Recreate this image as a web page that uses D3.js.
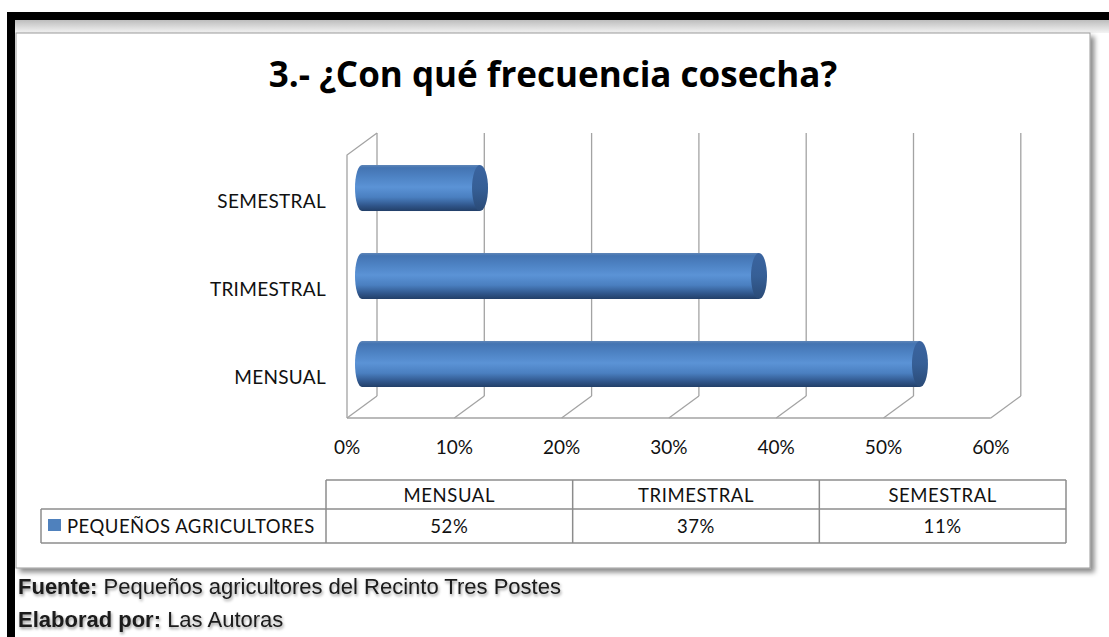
<!DOCTYPE html>
<html>
<head>
<meta charset="utf-8">
<script src="https://cdn.jsdelivr.net/npm/d3@7"></script>
<style>
  body { margin: 0; background: #fff; }
  svg { display: block; }
</style>
</head>
<body>
<div id="chart"></div>
<script>
// data
const categories = ["MENSUAL", "TRIMESTRAL", "SEMESTRAL"];
const values = [0.52, 0.37, 0.11];
const valueLabels = ["52%", "37%", "11%"];
const seriesName = "PEQUEÑOS AGRICULTORES";
const xTicks = [0, 0.1, 0.2, 0.3, 0.4, 0.5, 0.6];
const title = "3.- ¿Con qué frecuencia cosecha?";
const footer = [["Fuente:", " Pequeños agricultores del Recinto Tres Postes"],
                ["Elaborad por:", " Las Autoras"]];

const W = 1109, H = 637;
const svg = d3.select("#chart").append("svg")
  .attr("width", W).attr("height", H);

const defs = svg.append("defs");

// cylinder body gradient
const grad = defs.append("linearGradient")
  .attr("id", "cyl").attr("x1", 0).attr("y1", 0).attr("x2", 0).attr("y2", 1);
[[0, "#5f86b8"], [0.06, "#4474b2"], [0.25, "#4d82c3"], [0.48, "#5b93d6"],
 [0.7, "#4a7fc0"], [0.88, "#30568b"], [1, "#223f68"]]
  .forEach(([o, c]) => grad.append("stop").attr("offset", o).attr("stop-color", c));

const capGrad = defs.append("linearGradient")
  .attr("id", "cap").attr("x1", 0).attr("y1", 0).attr("x2", 0).attr("y2", 1);
[[0, "#3a64a0"], [0.5, "#365f96"], [1, "#2a4a76"]]
  .forEach(([o, c]) => capGrad.append("stop").attr("offset", o).attr("stop-color", c));

const band = defs.append("linearGradient")
  .attr("id", "band").attr("x1", 0).attr("y1", 0).attr("x2", 0).attr("y2", 1);
[[0, "#bdbdbd"], [1, "#f4f4f4"]]
  .forEach(([o, c]) => band.append("stop").attr("offset", o).attr("stop-color", c));

const shadow = defs.append("filter").attr("id", "shadow")
  .attr("x", "-5%").attr("y", "-5%").attr("width", "110%").attr("height", "110%");
shadow.append("feDropShadow").attr("dx", 4).attr("dy", 4)
  .attr("stdDeviation", 2.5).attr("flood-color", "#000").attr("flood-opacity", 0.45);

const txtShadow = defs.append("filter").attr("id", "tshadow")
  .attr("x", "-5%").attr("y", "-30%").attr("width", "110%").attr("height", "160%");
txtShadow.append("feDropShadow").attr("dx", 1).attr("dy", 2)
  .attr("stdDeviation", 1.6).attr("flood-color", "#000").attr("flood-opacity", 0.4);

// page frame
svg.append("rect").attr("x", 15).attr("y", 20).attr("width", W - 15).attr("height", 13)
  .attr("fill", "url(#band)");
svg.append("rect").attr("x", 7).attr("y", 12).attr("width", W - 7).attr("height", 8)
  .attr("fill", "#000");
svg.append("rect").attr("x", 7).attr("y", 12).attr("width", 8).attr("height", H - 12)
  .attr("fill", "#000");

// chart box
svg.append("rect").attr("x", 16).attr("y", 33).attr("width", 1074).attr("height", 535)
  .attr("fill", "#fff").attr("stroke", "#9a9a9a").attr("stroke-width", 1)
  .attr("filter", "url(#shadow)");

// title
svg.append("text").attr("x", 553).attr("y", 87)
  .attr("text-anchor", "middle")
  .style("font-family", "'Open Sans', Lato, sans-serif")
  .style("font-weight", "bold").style("font-size", "35px")
  .attr("fill", "#000").text(title);

// 3D plot geometry
const depthX = 15, depthY = 11;     // half depth offset
const midX0 = 362, floorMid = 407, topBack = 133;
const x = d3.scaleLinear().domain([0, 0.6]).range([midX0, midX0 + 643.8]);
const y = d3.scaleBand().domain(categories.slice().reverse())
  .range([165, 387]).paddingInner(0.477).paddingOuter(0);

const grid = svg.append("g")
  .attr("stroke", "#a3a3a3").attr("stroke-width", 1.3).attr("fill", "none");

// back wall verticals
grid.selectAll(".bv").data(xTicks).join("line")
  .attr("x1", d => x(d) + depthX).attr("x2", d => x(d) + depthX)
  .attr("y1", topBack).attr("y2", floorMid - depthY);
// floor diagonals
grid.selectAll(".fd").data(xTicks).join("line")
  .attr("x1", d => x(d) + depthX).attr("y1", floorMid - depthY)
  .attr("x2", d => x(d) - depthX).attr("y2", floorMid + depthY);
// floor front edge
grid.append("line")
  .attr("x1", x(0) - depthX).attr("x2", x(0.6) - depthX)
  .attr("y1", floorMid + depthY).attr("y2", floorMid + depthY);
// side wall
grid.append("path")
  .attr("d", `M${x(0) - depthX},${floorMid + depthY}V${topBack + 2 * depthY}L${x(0) + depthX},${topBack}`);

// bars as cylinders
const bars = svg.append("g").selectAll("g").data(categories).join("g");
const rxL = 7, rxR = 8;
bars.append("ellipse")
  .attr("cx", x(0)).attr("cy", d => y(d) + y.bandwidth() / 2)
  .attr("rx", rxL).attr("ry", y.bandwidth() / 2)
  .attr("fill", "url(#cyl)");
bars.append("rect")
  .attr("x", x(0)).attr("y", d => y(d))
  .attr("width", (d, i) => x(values[i]) - x(0))
  .attr("height", y.bandwidth())
  .attr("fill", "url(#cyl)");
bars.append("ellipse")
  .attr("cx", (d, i) => x(values[i])).attr("cy", d => y(d) + y.bandwidth() / 2)
  .attr("rx", rxR).attr("ry", y.bandwidth() / 2)
  .attr("fill", "url(#cap)");

const labelFont = "Lato, 'Open Sans', sans-serif";

// category labels
svg.append("g").selectAll("text").data(categories).join("text")
  .attr("x", 326).attr("y", d => y(d) + y.bandwidth() / 2 + 13)
  .attr("dy", "0.35em").attr("text-anchor", "end")
  .style("font-family", labelFont).style("font-size", "19px")
  .style("letter-spacing", "0.3px")
  .attr("fill", "#111").text(d => d);

// x tick labels
svg.append("g").selectAll("text").data(xTicks).join("text")
  .attr("x", d => x(d) - depthX).attr("y", 447)
  .attr("dy", "0.35em").attr("text-anchor", "middle")
  .style("font-family", labelFont).style("font-size", "19px")
  .attr("fill", "#111").text(d3.format(".0%"));

// data table
const col = d3.scaleBand().domain(categories).range([326, 1066]);
const rowTop = 480, rowMid = 509, rowBot = 543, legLeft = 41;
const tbl = svg.append("g");
const tLines = tbl.append("g").attr("stroke", "#8c8c8c").attr("stroke-width", 1.5);
tLines.append("line").attr("x1", col.range()[0]).attr("x2", col.range()[1]).attr("y1", rowTop).attr("y2", rowTop);
tLines.append("line").attr("x1", legLeft).attr("x2", col.range()[1]).attr("y1", rowMid).attr("y2", rowMid);
tLines.append("line").attr("x1", legLeft).attr("x2", col.range()[1]).attr("y1", rowBot).attr("y2", rowBot);
tLines.append("line").attr("x1", legLeft).attr("x2", legLeft).attr("y1", rowMid).attr("y2", rowBot);
tLines.selectAll(".cv").data(categories.concat(["end"])).join("line")
  .attr("x1", (d, i) => col.range()[0] + i * col.step())
  .attr("x2", (d, i) => col.range()[0] + i * col.step())
  .attr("y1", rowTop).attr("y2", rowBot);

tbl.selectAll(".hd").data(categories).join("text")
  .attr("x", d => col(d) + col.bandwidth() / 2).attr("y", (rowTop + rowMid) / 2 + 1)
  .attr("dy", "0.35em").attr("text-anchor", "middle")
  .style("font-family", labelFont).style("font-size", "18.5px")
  .style("letter-spacing", "0.6px")
  .attr("fill", "#111").text(d => d);
tbl.selectAll(".vl").data(categories).join("text")
  .attr("x", d => col(d) + col.bandwidth() / 2).attr("y", (rowMid + rowBot) / 2 + 1)
  .attr("dy", "0.35em").attr("text-anchor", "middle")
  .style("font-family", labelFont).style("font-size", "18.5px")
  .style("letter-spacing", "0.6px")
  .attr("fill", "#111").text((d, i) => valueLabels[i]);

tbl.append("rect").attr("x", 48).attr("y", 519).attr("width", 13).attr("height", 12)
  .attr("fill", "#4f81bd");
tbl.append("text").attr("x", 67).attr("y", (rowMid + rowBot) / 2 + 1)
  .attr("dy", "0.35em")
  .style("font-family", labelFont).style("font-size", "18.5px")
  .style("letter-spacing", "0.5px")
  .attr("fill", "#111").text(seriesName);

// footer
const foot = svg.append("g").attr("filter", "url(#tshadow)");
foot.selectAll("text").data(footer).join("text")
  .attr("x", 18).attr("y", (d, i) => 594 + i * 33)
  .style("font-family", "'Liberation Sans', Arial, sans-serif")
  .style("font-size", "22px").attr("fill", "#1a1a1a")
  .call(t => t.append("tspan").style("font-weight", "bold").text(d => d[0]))
  .call(t => t.append("tspan").text(d => d[1]));
</script>
</body>
</html>
